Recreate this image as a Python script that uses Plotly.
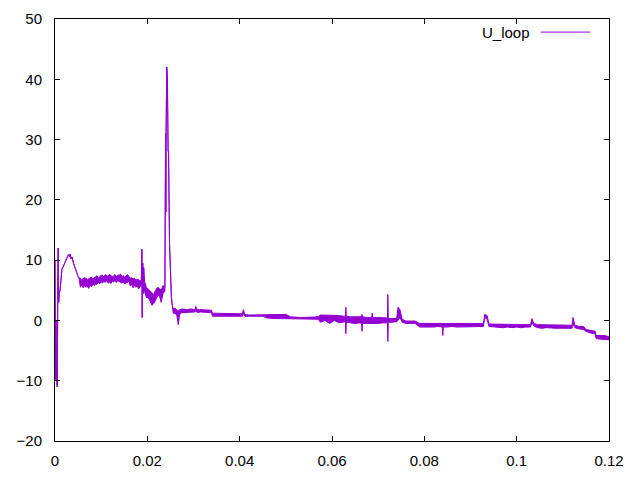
import plotly.graph_objects as go

# Loop voltage U_loop (V) versus time (s).
# Where the trace is a dense noisy band, each time bin holds its upper (hi)
# and lower (lo) extent; where it is a single line, hi equals lo.

# --- breakdown (single line) ---
t_a = [0.0000, 0.0001, 0.0002, 0.0003, 0.0004, 0.0005, 0.0006, 0.0007, 0.0008, 0.0009,
       0.0011, 0.0013, 0.0015, 0.0017, 0.0019, 0.0021, 0.0023, 0.0025, 0.0027, 0.0029,
       0.0031, 0.0033, 0.0035, 0.0037, 0.0040, 0.0043, 0.0046, 0.0049, 0.0052]
hi_a = [10, -10, 0, -9.5, -10.8, -11, 5, 12, 3, 4.5,
        5, 7, 8.5, 8.8, 9.2, 9.5, 9.8, 10.3, 10.5, 10.9,
        10.6, 11, 10.2, 10.5, 9.5, 8.8, 8.0, 7.5, 7.0]
lo_a = [10, -10, 0, -9.5, -10.8, -11, 5, 12, 3, 4.5,
        5, 7, 8.5, 8.8, 9.2, 9.5, 9.8, 10.3, 10.5, 10.9,
        10.6, 11, 10.2, 10.5, 9.5, 8.8, 8.0, 7.5, 7.0]

# --- plateau (noisy band) ---
t_b = [0.0055, 0.0058, 0.0061, 0.0064, 0.0067, 0.0070, 0.0073, 0.0076, 0.0079, 0.0082,
       0.0085, 0.0088, 0.0091, 0.0094, 0.0097, 0.0100, 0.0103, 0.0106, 0.0109, 0.0112,
       0.0115, 0.0118, 0.0121, 0.0124, 0.0127, 0.0130, 0.0133, 0.0136, 0.0139, 0.0142,
       0.0145, 0.0148, 0.0151, 0.0154, 0.0157, 0.0160, 0.0163, 0.0166, 0.0169, 0.0172,
       0.0175, 0.0178, 0.0181, 0.0184, 0.0187]
hi_b = [7.0, 6.6, 7.0, 7.1, 7.0, 6.8, 6.9, 7.1, 7.2, 6.9,
        7.1, 7.3, 7.4, 7.0, 7.3, 7.5, 7.5, 7.2, 7.6, 7.4,
        7.3, 7.6, 7.5, 7.2, 7.5, 7.6, 7.3, 7.5, 7.5, 7.7,
        7.3, 7.4, 7.2, 7.5, 7.6, 7.3, 7.0, 7.1, 6.9, 7.0,
        6.7, 6.8, 6.8, 6.5, 6.7]
lo_b = [5.5, 5.9, 5.4, 5.8, 5.5, 5.7, 5.3, 5.8, 5.6, 6.0,
        5.8, 6.0, 6.0, 6.3, 6.1, 6.4, 6.2, 6.5, 6.3, 6.6,
        6.2, 6.4, 6.1, 6.5, 6.4, 6.6, 6.3, 6.6, 6.5, 6.4,
        6.2, 6.4, 6.0, 6.3, 6.3, 6.5, 5.7, 6.0, 5.4, 5.9,
        5.5, 5.8, 5.2, 5.6, 5.8]

# --- spike region ---
t_c = [0.0188, 0.0189, 0.0190, 0.0191, 0.0192, 0.0194, 0.0198, 0.0202, 0.0206, 0.0210,
       0.0214, 0.0218, 0.0222, 0.0226, 0.0230, 0.0234, 0.0238, 0.02395, 0.0240, 0.02405,
       0.0242, 0.02435, 0.0245, 0.0246, 0.0248, 0.0250, 0.0252, 0.0254, 0.0256, 0.0260,
       0.0264, 0.0267, 0.0270]
hi_c = [11.8, 0.5, 9.5, 4.5, 8.8, 6.5, 5.5, 5.2, 4.8, 4.5,
        4.3, 5.0, 5.5, 5.3, 5.0, 5.8, 5.5, 31, 18, 30,
        42, 40, 28, 28, 13, 7, 4, 2.5, 2.0, 2.0,
        1.6, 1.5, 1.8]
lo_c = [11.8, 0.5, 9.5, 4.5, 8.8, 4.8, 3.8, 3.8, 3.2, 2.5,
        2.8, 3.5, 4.0, 4.2, 3.0, 4.5, 4.8, 31, 18, 30,
        42, 40, 28, 28, 13, 7, 4, 2.5, 1.2, 1.2,
        0.8, -0.7, 1.0]

# --- slow decay, first part ---
t_d1 = [0.0275, 0.0285, 0.0295, 0.0303, 0.0305, 0.0308, 0.0315, 0.0325, 0.0335, 0.0339,
        0.0341, 0.0350, 0.0360, 0.0370, 0.0380, 0.0390, 0.0400, 0.0406, 0.0408, 0.0411,
        0.0420, 0.0430, 0.0440, 0.0450, 0.0460, 0.0470, 0.0480, 0.0490, 0.0500, 0.0510,
        0.0520, 0.0530, 0.0540, 0.0550, 0.0560, 0.0570, 0.0575, 0.0585, 0.0595, 0.0605,
        0.0615, 0.0625]
hi_d1 = [1.9, 1.8, 1.9, 1.8, 2.3, 1.8, 1.8, 1.8, 1.7, 1.7,
         1.2, 1.2, 1.2, 1.2, 1.2, 1.2, 1.2, 1.1, 1.8, 1.0,
         0.9, 0.9, 0.9, 0.9, 1.0, 1.0, 1.0, 0.9, 1.0, 0.6,
         0.5, 0.5, 0.5, 0.5, 0.5, 0.6, 0.9, 0.9, 0.8, 0.8,
         0.8, 0.7]
lo_d1 = [1.3, 1.3, 1.4, 1.4, 1.6, 1.3, 1.4, 1.3, 1.3, 1.3,
         0.7, 0.7, 0.7, 0.7, 0.7, 0.6, 0.7, 0.7, 1.2, 0.7,
         0.7, 0.7, 0.7, 0.7, 0.4, 0.3, 0.3, 0.3, 0.3, 0.3,
         0.3, 0.3, 0.3, 0.3, 0.3, 0.2, -0.3, 0.0, -0.5, 0.0,
         -0.4, -0.2]

# --- slow decay, second part ---
t_d2 = [0.0629, 0.0630, 0.0631,
        0.0640, 0.0650, 0.0660, 0.0664, 0.0665, 0.0666, 0.0675, 0.0686, 0.0687, 0.0688,
        0.0700, 0.0710, 0.0720, 0.0721, 0.0722, 0.0730, 0.0740, 0.0743, 0.0747, 0.0752,
        0.0760, 0.0770, 0.0780, 0.0790, 0.0800, 0.0810, 0.0820, 0.0830, 0.0839, 0.0840,
        0.0841, 0.0850, 0.0860, 0.0870, 0.0880, 0.0890, 0.0900, 0.0910, 0.0920, 0.0928,
        0.0931, 0.0936, 0.0940, 0.0950, 0.0960, 0.0970, 0.0980, 0.0990, 0.1000, 0.1010,
        0.1020, 0.1030, 0.1033, 0.1037, 0.1045, 0.1055, 0.1065, 0.1075, 0.1085, 0.1095,
        0.1105, 0.1115, 0.1120, 0.1122, 0.1126, 0.1135, 0.1145, 0.1150, 0.1160, 0.1170,
        0.1172, 0.1180, 0.1190, 0.1200]
hi_d2 = [0.7, 2.2, 0.7,
         0.6, 0.6, 0.7, 0.6, 1.0, 0.6, 0.5, 0.5, 1.2, 0.5,
         0.5, 0.4, 0.4, 4.3, 0.3, 0.3, 0.3, 2.2, 1.8, 0.2,
         -0.1, -0.1, -0.1, -0.5, -0.5, -0.5, -0.5, -0.5, -0.6, -0.6,
         -0.6, -0.5, -0.5, -0.6, -0.5, -0.6, -0.5, -0.5, -0.5, -0.5,
         1.0, 0.8, -0.6, -0.6, -0.6, -0.7, -0.6, -0.7, -0.6, -0.7,
         -0.6, -0.7, 0.3, -0.5, -0.7, -0.7, -0.7, -0.8, -0.8, -0.8,
         -0.8, -0.8, -0.8, 0.5, -0.8, -1.0, -1.0, -1.5, -1.7, -1.8,
         -2.5, -2.5, -2.5, -2.7]
lo_d2 = [-0.2, -2.2, -0.3,
         -0.4, -0.5, -0.4, -0.5, -1.8, -0.5, -0.5, -0.5, -0.6, -0.5,
         -0.5, -0.4, -0.4, -3.5, -0.3, -0.3, -0.2, 0.0, 0.5, -0.3,
         -0.5, -0.5, -0.5, -1.1, -1.1, -1.2, -1.1, -1.0, -1.1, -2.5,
         -1.1, -1.1, -1.0, -1.1, -1.1, -1.1, -1.0, -1.1, -1.0, -1.0,
         0.5, 0.2, -1.0, -1.1, -1.1, -1.2, -1.1, -1.2, -1.1, -1.2,
         -1.1, -1.1, -0.3, -0.9, -1.2, -1.3, -1.2, -1.3, -1.3, -1.3,
         -1.3, -1.3, -1.3, -0.5, -1.2, -1.4, -1.5, -1.8, -2.1, -2.2,
         -3.0, -3.1, -3.2, -3.2]

x_ticks = [0, 0.02, 0.04, 0.06, 0.08, 0.1, 0.12]
x_tick_text = ["0", "0.02", "0.04", "0.06", "0.08", "0.1", "0.12"]
y_ticks = [-20, -10, 0, 10, 20, 30, 40, 50]
series_name = "U_loop"

t_all = t_a + t_b + t_c + t_d1 + t_d2
hi_all = hi_a + hi_b + hi_c + hi_d1 + hi_d2
lo_all = lo_a + lo_b + lo_c + lo_d1 + lo_d2

color = "#9400D3"
font = dict(family="Liberation Sans, Arial, sans-serif", size=15, color="black")

fig = go.Figure()
fig.add_trace(go.Scatter(x=t_all, y=lo_all, mode="lines", name=series_name,
                         line=dict(color=color, width=1), showlegend=False))
fig.add_trace(go.Scatter(x=t_all, y=hi_all, mode="lines", name=series_name,
                         line=dict(color=color, width=1), fill="tonexty",
                         fillcolor=color, showlegend=False))

axis_common = dict(showline=True, linecolor="black", linewidth=1, mirror="ticks",
                   ticks="inside", ticklen=5, tickcolor="black", tickwidth=1,
                   showgrid=False, zeroline=False, tickfont=font, automargin=False)

fig.update_xaxes(range=[0, 0.12], tickvals=x_ticks, ticktext=x_tick_text,
                 ticklabelstandoff=6, **axis_common)
fig.update_yaxes(range=[-20, 50], tickvals=y_ticks, ticklabelstandoff=9, **axis_common)

# gnuplot-style key: label then line sample, top right inside the plot
fig.add_annotation(x=0.861, y=0.969, xref="paper", yref="paper", text=series_name,
                   showarrow=False, xanchor="right", yanchor="middle", font=font)
fig.add_shape(type="line", xref="paper", yref="paper", x0=0.877, x1=0.966,
              y0=0.969, y1=0.969, line=dict(color=color, width=1))

# the page has an 8 px body margin, so the figure is drawn 8 px smaller
fig.update_layout(width=632, height=472,
                  margin=dict(l=47, r=31, t=11, b=39, autoexpand=False),
                  plot_bgcolor="white", paper_bgcolor="white", font=font)

fig.write_html("out.html")
